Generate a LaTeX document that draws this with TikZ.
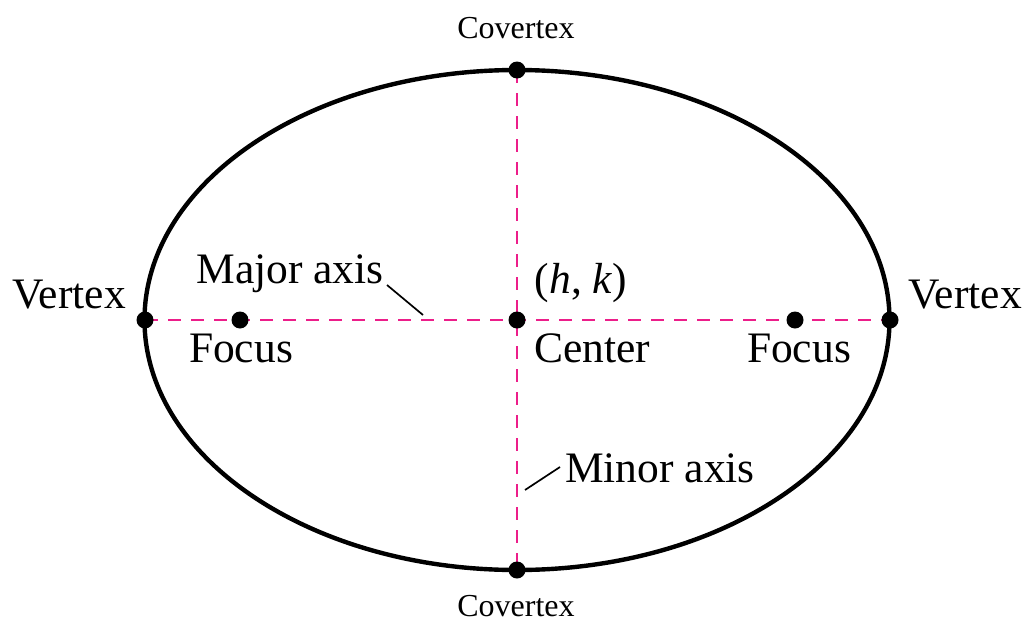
\documentclass[tikz,border=0pt]{standalone}
\usepackage{fontspec}
\setmainfont{Liberation Serif}
\definecolor{axispink}{RGB}{236,30,138}
\begin{document}
\begin{tikzpicture}[x=1pt,y=-1pt,
  curve/.style={line width=4.4pt},
  axisline/.style={axispink,line width=2.8pt,dash pattern=on 13pt off 10pt},
  dot/.style={circle,fill=black,inner sep=0pt,minimum size=17pt},
  lbl/.style={font=\fontsize{43.5}{47}\selectfont,inner sep=0pt,anchor=base},
  smlbl/.style={font=\fontsize{32}{35}\selectfont,inner sep=0pt,anchor=base},
  leader/.style={line width=1.7pt}]
\useasboundingbox (0,0) rectangle (1026,624);
\coordinate (C) at (517,320);
\coordinate (L) at (145,320);
\coordinate (R) at (890,320);
\coordinate (T) at (517,70);
\coordinate (B) at (517,570);
\coordinate (F1) at (240,320);
\coordinate (F2) at (795,320);
\draw[axisline] (L) -- (R);
\draw[axisline] (T) -- (B);
\draw[curve] (C) ellipse [x radius=372.5pt, y radius=250pt];
\foreach \p in {C,L,R,T,B,F1,F2} \node[dot] (d\p) at (\p) {};
\node[smlbl] (covtop) at (516,38) {Covertex};
\node[smlbl] (covbot) at (516,616) {Covertex};
\node[lbl] (vl) at (69,308) {Vertex};
\node[lbl] (vr) at (965,308) {Vertex};
\node[lbl] (maj) at (290,283) {Major axis};
\node[lbl] (hk) at (581,293) {(\textit{h}, \textit{k})};
\node[lbl] (cen) at (592,362) {Center};
\node[lbl] (fl) at (241,362) {Focus};
\node[lbl] (fr) at (799,362) {Focus};
\node[lbl] (minr) at (660,482) {Minor axis};
\coordinate (majend) at (423,315);
\coordinate (minend) at (525,490);
\draw[leader] (387,285) -- (majend);
\draw[leader] (560,467) -- (minend);
\end{tikzpicture}
\end{document}
